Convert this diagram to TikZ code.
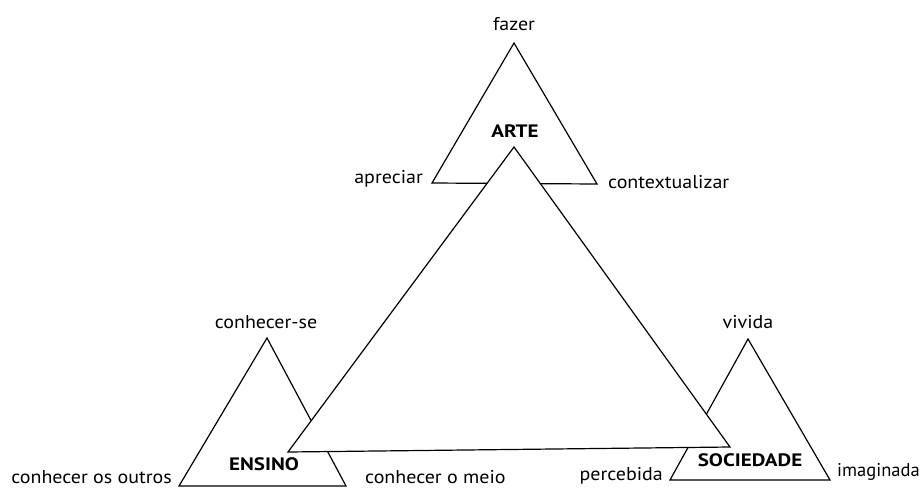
\documentclass[tikz,border=0pt]{standalone}
\usepackage{fontspec}
\usepackage{graphicx}
\setmainfont{PT Sans}
\newcommand{\rlab}[1]{\scalebox{1.08}[1]{#1}}
\newcommand{\blab}[1]{\scalebox{1.17}[1]{#1}}
\begin{document}
\begin{tikzpicture}[x=1pt,y=-1pt,
  tri/.style={draw=black,line width=1.2pt,fill=white,line join=miter},
  lab/.style={font=\fontsize{18.5}{20}\selectfont,inner sep=0pt},
  head/.style={font=\fontsize{18}{20}\selectfont\bfseries,inner sep=0pt}]
\useasboundingbox (0,0) rectangle (923,488);
% top triangle
\coordinate (tA) at (514,43);
\coordinate (tL) at (432,183);
\coordinate (tR) at (597,184);
% left triangle
\coordinate (lA) at (267,338);
\coordinate (lL) at (179,486);
\coordinate (lR) at (346,486);
% right triangle
\coordinate (rA) at (748,339);
\coordinate (rL) at (670,480);
\coordinate (rR) at (830,480);
% big triangle
\coordinate (bA) at (514,147);
\coordinate (bL) at (288,452);
\coordinate (bR) at (730,447);

\draw[tri] (tA) -- (tL) -- (tR) -- cycle;
\draw[tri] (lA) -- (lL) -- (lR) -- cycle;
\draw[tri] (rA) -- (rL) -- (rR) -- cycle;
\draw[tri] (bA) -- (bL) -- (bR) -- cycle;

\node[head] (arte) at (515,131) {\blab{ARTE}};
\node[head] (ensino) at (264,464) {\blab{ENSINO}};
\node[head] (soc) at (750,460) {\blab{SOCIEDADE}};

\node[lab,anchor=base] (fazer) at (514,30) {\rlab{fazer}};
\node[lab,anchor=base east] (apreciar) at (423,183) {\rlab{apreciar}};
\node[lab,anchor=base west] (context) at (608,188) {\rlab{contextualizar}};
\node[lab,anchor=base] (conhse) at (266,328) {\rlab{conhecer-se}};
\node[lab,anchor=base] (vivida) at (748,328) {\rlab{vivida}};
\node[lab,anchor=base east] (outros) at (172,483) {\rlab{conhecer os outros}};
\node[lab,anchor=base west] (meio) at (365,483) {\rlab{conhecer o meio}};
\node[lab,anchor=base east] (percebida) at (663,480) {\rlab{percebida}};
\node[lab,anchor=base west] (imag) at (837,476) {imaginada};
\end{tikzpicture}
\end{document}
